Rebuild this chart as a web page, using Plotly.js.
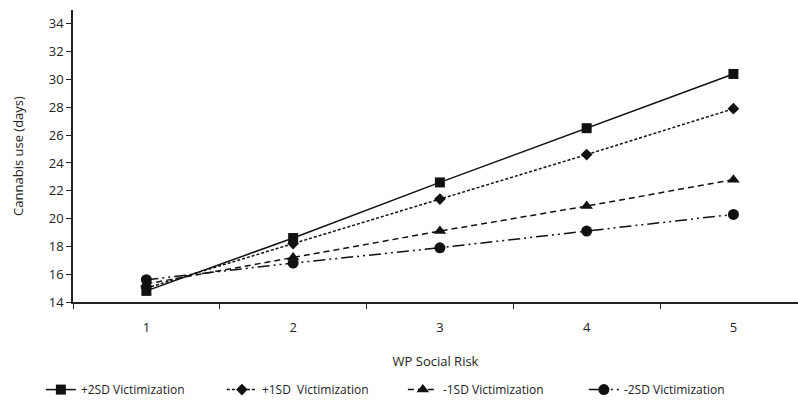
<!DOCTYPE html>
<html><head><meta charset="utf-8">
<script src="https://cdn.plot.ly/plotly-3.0.1.min.js"></script>
<style>html,body{margin:0;padding:0;background:#fff;}</style>
</head><body>
<div id="chart" style="width:798px;height:408px;"></div>
<script>
const categories = ["1", "2", "3", "4", "5"];
const seriesNames = ["+2SD Victimization", "+1SD  Victimization", "-1SD Victimization", "-2SD Victimization"];
const plus2SD = [14.8, 18.6, 22.6, 26.5, 30.4];
const plus1SD = [15.0, 18.2, 21.4, 24.6, 27.9];
const minus1SD = [15.3, 17.2, 19.1, 20.9, 22.8];
const minus2SD = [15.6, 16.8, 17.9, 19.1, 20.3];
const yTicks = [14, 16, 18, 20, 22, 24, 26, 28, 30, 32, 34];

const values = [plus2SD, plus1SD, minus1SD, minus2SD];
const symbols = ["square", "diamond", "triangle-up", "circle"];
const dashes = ["solid", "3px,2px", "6px,4px", "12px,4px,2px,4px,2px,4px"];
const sizes = [10, 9, 11, 11];

const traces = values.map((v, i) => ({
  x: categories, y: v, name: seriesNames[i], type: "scatter", mode: "lines+markers",
  line: {color: "#111", width: 1.5, dash: dashes[i]},
  marker: {symbol: symbols[i], size: sizes[i], color: "#111"}
}));

const layout = {
  width: 798, height: 408,
  margin: {l: 73, r: 0, t: 10, b: 106},
  paper_bgcolor: "#fff", plot_bgcolor: "#fff",
  font: {family: "Open Sans, Noto Sans, sans-serif", size: 13, color: "#222"},
  showlegend: true,
  legend: {orientation: "h", x: 0.455, xanchor: "center", y: -0.30, yanchor: "middle",
           font: {size: 12}, traceorder: "normal", entrywidth: 136, entrywidthmode: "pixels"},
  xaxis: {
    type: "category", range: [-0.5, 4.44], tickson: "boundaries",
    ticks: "outside", ticklen: 5, tickcolor: "#222", ticklabelstandoff: 12,
    showline: true, linecolor: "#222", linewidth: 2, showgrid: false, zeroline: false,
    title: {text: "WP Social Risk", standoff: 22, font: {size: 13}}
  },
  yaxis: {
    range: [14, 35], tickvals: yTicks, ticks: "outside", ticklen: 5, tickcolor: "#222",
    showline: true, linecolor: "#222", linewidth: 1.5, showgrid: false, zeroline: false,
    title: {text: "Cannabis use (days)", standoff: 22, font: {size: 13}}
  }
};
Plotly.newPlot("chart", traces, layout, {displayModeBar: false});
</script>
</body></html>
